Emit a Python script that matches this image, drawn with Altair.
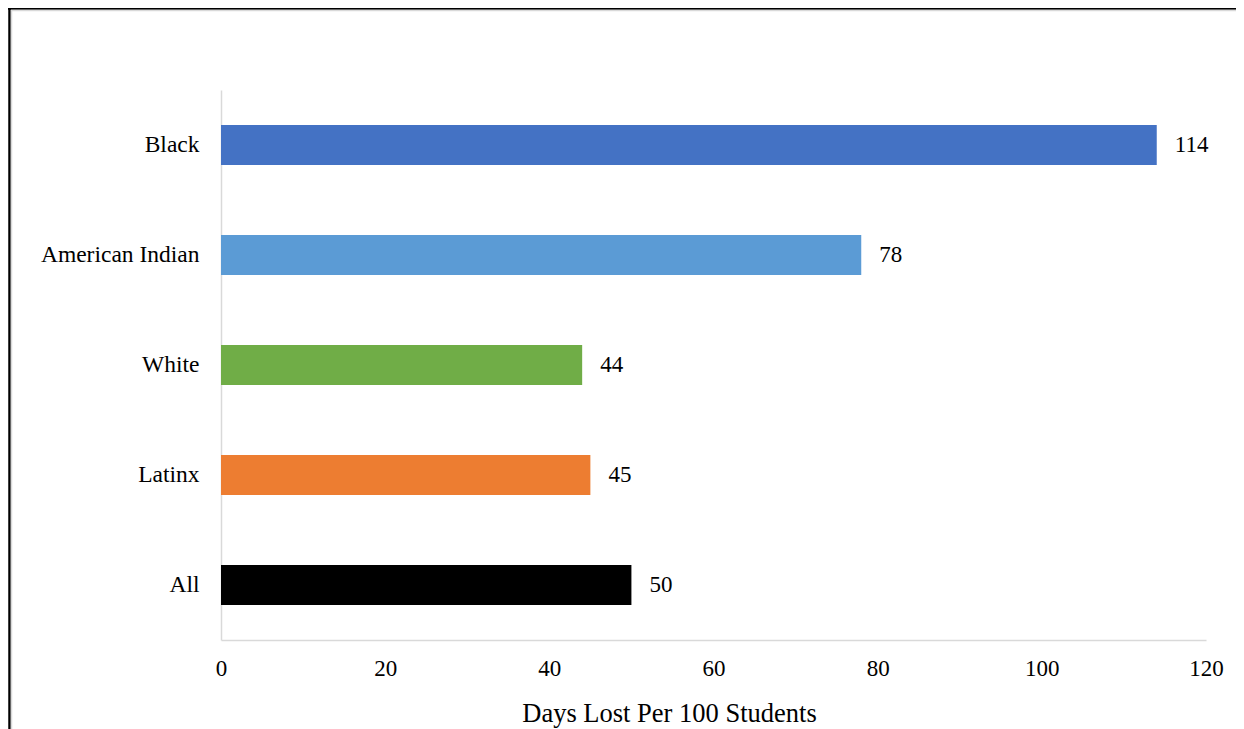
import altair as alt
import pandas as pd

groups = ["Black", "American Indian", "White", "Latinx", "All"]
days_lost = [114, 78, 44, 45, 50]
colors = ["#4472C4", "#5B9BD5", "#70AD47", "#ED7D31", "#000000"]
x_ticks = [0, 20, 40, 60, 80, 100, 120]

df = pd.DataFrame({"group": groups, "days": days_lost, "color": colors})

FONT = "Liberation Serif"

base = alt.Chart(df).encode(
    y=alt.Y(
        "group:N",
        sort=groups,
        scale=alt.Scale(paddingInner=0.636, paddingOuter=0.318),
        axis=alt.Axis(
            title=None,
            ticks=False,
            domainColor="#d9d9d9",
            domainWidth=1.5,
            labelFont=FONT,
            labelFontSize=23.5,
            labelColor="#000000",
            labelPadding=22,
            labelLimit=300,
        ),
    ),
    x=alt.X(
        "days:Q",
        scale=alt.Scale(domain=[0, 120], nice=False),
        axis=alt.Axis(
            values=x_ticks,
            title="Days Lost Per 100 Students",
            titleFont=FONT,
            titleFontSize=26.5,
            titleFontWeight="normal",
            titleColor="#000000",
            titlePadding=20,
            titleX=448,
            titleAlign="center",
            ticks=False,
            grid=False,
            domainColor="#d9d9d9",
            domainWidth=1.5,
            labelFont=FONT,
            labelFontSize=23,
            labelColor="#000000",
            labelPadding=17,
            labelFlush=False,
        ),
    ),
)

bars = base.mark_bar().encode(color=alt.Color("color:N", scale=None))
labels = base.mark_text(
    align="left", baseline="middle", dx=18, font=FONT, fontSize=23, color="#000000"
).encode(text="days:Q")

frame_data = alt.Data(values=[{"k": 1}])
frame_left = alt.Chart(frame_data).mark_rule(color="#000000", strokeWidth=2.5).encode(
    x=alt.value(-211.5), y=alt.value(-83), y2=alt.value(700)
)
frame_top = alt.Chart(frame_data).mark_rule(color="#000000", strokeWidth=2.5).encode(
    y=alt.value(-81.5), x=alt.value(-213), x2=alt.value(1100)
)
shadow_left = alt.Chart(frame_data).mark_rule(color="#d9d9d9", strokeWidth=1.5).encode(
    x=alt.value(-209.5), y=alt.value(-80), y2=alt.value(700)
)
shadow_top = alt.Chart(frame_data).mark_rule(color="#d9d9d9", strokeWidth=1.5).encode(
    y=alt.value(-79.5), x=alt.value(-210), x2=alt.value(1100)
)

chart = (
    alt.layer(bars, labels, frame_left, frame_top, shadow_left, shadow_top)
    .properties(
        width=985,
        height=550,
        background="#ffffff",
        autosize=alt.AutoSizeParams(type="none"),
        padding={"left": 213, "top": 82, "right": 30, "bottom": 89},
    )
    .configure_view(strokeWidth=0, stroke=None)
)

chart.save("out.html", embed_options={"renderer": "svg", "actions": False})
